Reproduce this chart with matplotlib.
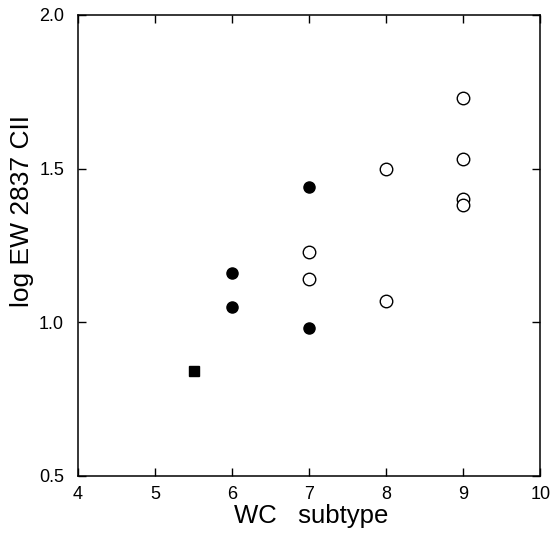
import matplotlib
matplotlib.use("Agg")
import matplotlib.pyplot as plt

# datos
sq_x = [5.5]
sq_y = [0.84]

filled_x = [6, 6, 7, 7]
filled_y = [1.16, 1.05, 1.44, 0.98]

open_x = [7, 7, 8, 8, 9, 9, 9, 9]
open_y = [1.23, 1.14, 1.50, 1.07, 1.73, 1.53, 1.40, 1.38]

xticks = [4, 5, 6, 7, 8, 9, 10]
yticks = [0.5, 1.0, 1.5, 2.0]

plt.rcParams['font.family'] = ['Liberation Sans', 'DejaVu Sans']

fig = plt.figure(figsize=(5.53, 5.33), dpi=100)
ax = fig.add_axes([0.141, 0.107, 0.836, 0.865])

ax.plot(sq_x, sq_y, 's', color='black', markersize=7.5, linestyle='none')
ax.plot(filled_x, filled_y, 'o', color='black', markersize=8, linestyle='none')
ax.plot(open_x, open_y, 'o', markerfacecolor='white', markeredgecolor='black',
        markeredgewidth=1.0, markersize=9, linestyle='none')

ax.set_xlim(4, 10)
ax.set_ylim(0.5, 2.0)
ax.set_xticks(xticks)
ax.set_yticks(yticks)
ax.set_yticklabels(['0.5', '1.0', '1.5', '2.0'])
ax.tick_params(direction='in', length=6, width=1, top=True, right=True,
               labelsize=13)
ax.tick_params(axis='x', pad=7)
ax.tick_params(axis='y', pad=10)
for s in ax.spines.values():
    s.set_linewidth(1.1)

ax.set_xlabel('WC   subtype', fontsize=18.5)
ax.set_ylabel('log EW 2837 CII', fontsize=19)
ax.xaxis.set_label_coords(0.504, -0.061)
ax.yaxis.set_label_coords(-0.095, 0.575)

fig.savefig('out.png', dpi=100)
